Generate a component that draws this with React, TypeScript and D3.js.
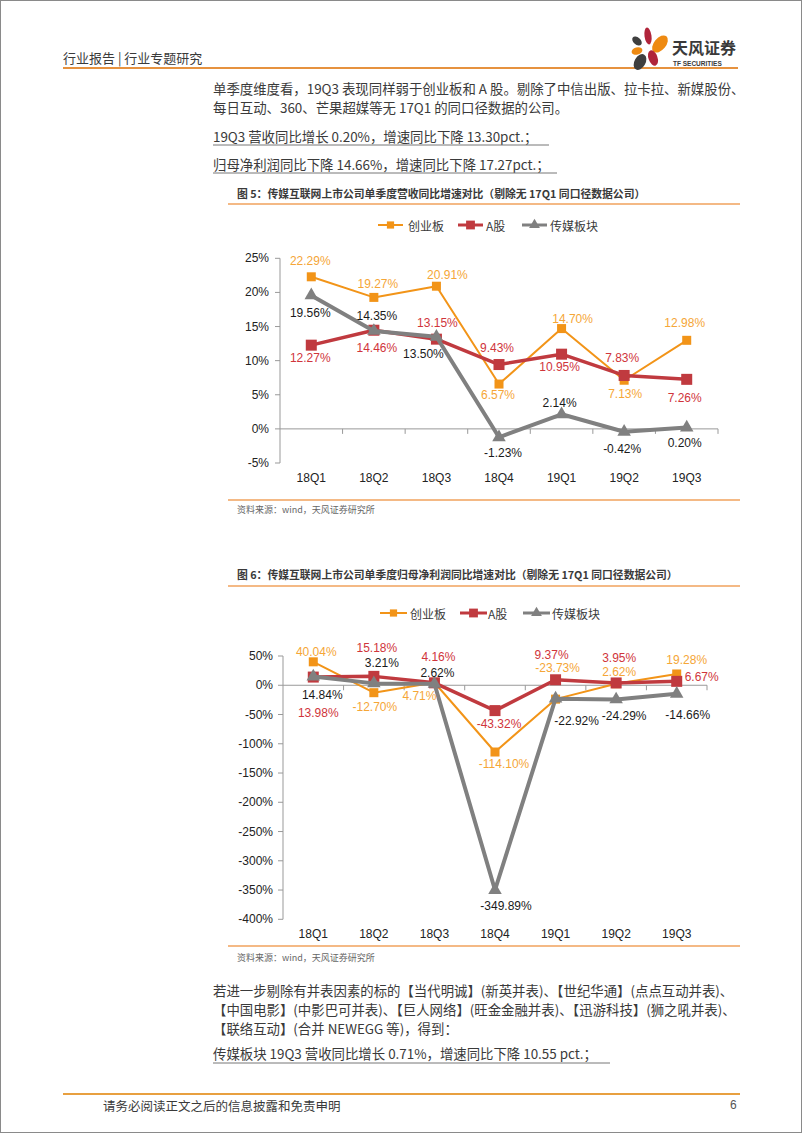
import React from "react";
import * as d3 from "d3";

const W = 802;
const H = 1133;

const quarters = ["18Q1", "18Q2", "18Q3", "18Q4", "19Q1", "19Q2", "19Q3"];
const seriesNames = ["创业板", "A股", "传媒板块"];

// 图5 营收同比增速 (%)
const revGem = [22.29, 19.27, 20.91, 6.57, 14.7, 7.13, 12.98];
const revA = [12.27, 14.46, 13.15, 9.43, 10.95, 7.83, 7.26];
const revMedia = [19.56, 14.35, 13.5, -1.23, 2.14, -0.42, 0.2];
const revTicks = [25, 20, 15, 10, 5, 0, -5];

// 图6 归母净利润同比增速 (%)
const profitGem = [40.04, -12.7, 4.71, -114.1, -23.73, 2.62, 19.28];
const profitA = [13.98, 15.18, 4.16, -43.32, 9.37, 3.95, 6.67];
const profitMedia = [14.84, 3.21, 2.62, -349.89, -22.92, -24.29, -14.66];
const profitTicks = [50, 0, -50, -100, -150, -200, -250, -300, -350, -400];

// label nudges [dx, dy] in px, per series per quarter
const revOffsets = [
  [[-1, -16], [4, -13], [11, -11], [-1, 11], [11, -10], [1, 14], [-2, -17]],
  [[-1, 13], [3, 18], [1, -16], [-2, -17], [-2, 13], [-2, -17], [-2, 19]],
  [[-1, 18], [3, -15], [-13, 17], [4, 16], [-2, -11], [-2, 17], [-2, 15]],
];
const profitOffsets = [
  [[3, -10], [1, 14], [-15, 14], [9, 12], [2, -31], [3, -12], [10, -14]],
  [[5, 36], [3, -28], [4, -26], [4, 13], [-4, -25], [3, -25], [25, -4]],
  [[9, 18], [8, -20], [3, -11], [11, 16], [21, 22], [8, 17], [11, 21]],
];

const styles = [
  { stroke: "#F29418", width: 2, marker: "square", size: 9, label: "#F5A637" },
  { stroke: "#C03A3F", width: 3.5, marker: "square", size: 11, label: "#D0353B" },
  { stroke: "#808080", width: 4, marker: "triangle", size: 12, label: "#1a1a1a" },
];

const cjk = "'Noto Sans CJK SC', 'Noto Sans', sans-serif";
const latin = "'Liberation Sans', Arial, sans-serif";
const textColor = "#3a3a3a";
const orange = "#E6923F";
const lightOrange = "#F4B985";

function Marker({ kind, x, y, size, fill }: any) {
  if (kind === "square") {
    return <rect x={x - size / 2} y={y - size / 2} width={size} height={size} fill={fill} />;
  }
  const sym = d3.symbol().type(d3.symbolTriangle).size(size * size * 0.55)();
  return <path d={sym || ""} transform={`translate(${x},${y})`} fill={fill} />;
}

function LineChart({ series, offsets, domain, ticks, yRange, xRange, labelRight, catY }: any) {
  const x = d3.scaleBand().domain(quarters).range(xRange);
  const y = d3.scaleLinear().domain(domain).range(yRange);
  const cx = (q: string) => (x(q) as number) + x.bandwidth() / 2;
  const line = d3
    .line<number>()
    .x((_, i) => cx(quarters[i]))
    .y((d) => y(d));
  const axisX = xRange[0];
  return (
    <g>
      {/* y axis */}
      <line x1={axisX} x2={axisX} y1={y(domain[1])} y2={y(domain[0])} stroke="#999" strokeWidth={1} />
      {ticks.map((t: number) => (
        <g key={t}>
          <line x1={axisX - 5} x2={axisX} y1={y(t)} y2={y(t)} stroke="#999" />
          <text x={labelRight} y={y(t)} textAnchor="end" dominantBaseline="central" fontFamily={latin} fontSize={12} fill="#222">
            {t}%
          </text>
        </g>
      ))}
      {/* x axis at zero */}
      <line x1={axisX} x2={xRange[1]} y1={y(0)} y2={y(0)} stroke="#999" />
      {quarters.map((q) => (
        <line key={q} x1={(x(q) as number) + x.bandwidth()} x2={(x(q) as number) + x.bandwidth()} y1={y(0)} y2={y(0) + 5} stroke="#999" />
      ))}
      {quarters.map((q) => (
        <text key={q} x={cx(q)} y={catY} textAnchor="middle" dominantBaseline="central" fontFamily={latin} fontSize={12} fill="#222">
          {q}
        </text>
      ))}
      {series.map((vals: number[], si: number) => {
        const st = styles[si];
        return (
          <g key={si}>
            <path d={line(vals) || ""} fill="none" stroke={st.stroke} strokeWidth={st.width} strokeLinejoin="round" />
            {vals.map((v, i) => (
              <Marker key={i} kind={st.marker} x={cx(quarters[i])} y={y(v)} size={st.size} fill={st.stroke} />
            ))}
          </g>
        );
      })}
      {series.map((vals: number[], si: number) =>
        vals.map((v, i) => (
          <text
            key={`${si}-${i}`}
            x={cx(quarters[i]) + offsets[si][i][0]}
            y={y(v) + offsets[si][i][1]}
            textAnchor="middle"
            dominantBaseline="central"
            fontFamily={latin}
            fontSize={12}
            fill={styles[si].label}
          >
            {v.toFixed(2)}%
          </text>
        ))
      )}
    </g>
  );
}

function Legend({ y, items }: any) {
  return (
    <g>
      {items.map((it: any, i: number) => {
        const st = styles[i];
        const mid = (it.x0 + it.x1) / 2;
        return (
          <g key={i}>
            <line x1={it.x0} x2={it.x1} y1={y} y2={y} stroke={st.stroke} strokeWidth={i === 0 ? 2 : 3} />
            <Marker kind={st.marker} x={mid} y={y} size={st.size * 0.8} fill={st.stroke} />
            <text x={it.tx} y={y} dominantBaseline="central" fontFamily={cjk} fontSize={12} fill={textColor}>
              {seriesNames[i]}
            </text>
          </g>
        );
      })}
    </g>
  );
}

function Logo() {
  return (
    <g>
      <ellipse cx={648} cy={36} rx={3.5} ry={8.5} fill="#B0243A" transform="rotate(-8 648 36)" />
      <ellipse cx={637} cy={41} rx={3.5} ry={5.5} fill="#3F3F3F" transform="rotate(-50 637 41)" />
      <ellipse cx={660} cy={44} rx={6} ry={10} fill="#EE8A12" transform="rotate(40 660 44)" />
      <ellipse cx={637} cy={51} rx={3.5} ry={5.5} fill="#EE8A12" transform="rotate(75 637 51)" />
      <ellipse cx={653} cy={58} rx={4.5} ry={8} fill="#B0243A" transform="rotate(-20 653 58)" />
      <ellipse cx={640} cy={62} rx={5.5} ry={8.5} fill="#3F3F3F" transform="rotate(30 640 62)" />
      <text x={672} y={47} dominantBaseline="central" fontFamily={cjk} fontSize={16} fontWeight={700} fill="#3a3a3a">
        天风证券
      </text>
      <text x={673} y={63} dominantBaseline="central" fontFamily={latin} fontSize={6.5} fontWeight={700} fill="#3a3a3a">
        TF SECURITIES
      </text>
    </g>
  );
}

export default function App() {
  const bodyLine = (t: string, y: number, key: string) => (
    <text key={key} x={213} y={y} dominantBaseline="central" fontFamily={cjk} fontSize={13.4} fill={textColor}>
      {t}
    </text>
  );
  return (
    <svg width={W} height={H} style={{ position: "absolute", left: 0, top: 0, background: "#fff" }}>
      <rect x={0.5} y={0.5} width={W - 1} height={H - 1} fill="#fff" stroke="#8a8a8a" />
      {/* header */}
      <text x={63} y={57} dominantBaseline="central" fontFamily={cjk} fontSize={13} fill={textColor}>
        行业报告 | 行业专题研究
      </text>
      <line x1={63} x2={738} y1={68} y2={68} stroke={orange} strokeWidth={2} />
      <Logo />

      {bodyLine("单季度维度看，19Q3 表现同样弱于创业板和 A 股。剔除了中信出版、拉卡拉、新媒股份、", 88, "l1")}
      {bodyLine("每日互动、360、芒果超媒等无 17Q1 的同口径数据的公司。", 107, "l2")}
      {bodyLine("19Q3 营收同比增长 0.20%，增速同比下降 13.30pct.；", 136, "l3")}
      <line x1={213} x2={549} y1={145} y2={145} stroke="#777" />
      {bodyLine("归母净利润同比下降 14.66%，增速同比下降 17.27pct.；", 164, "l4")}
      <line x1={213} x2={557} y1={173} y2={173} stroke="#777" />

      {/* figure 5 */}
      <text x={237} y={193} dominantBaseline="central" fontFamily={cjk} fontSize={10.8} fontWeight={700} fill={textColor}>
        图 5：传媒互联网上市公司单季度营收同比增速对比（剔除无 17Q1 同口径数据公司）
      </text>
      <line x1={228} x2={740} y1={204} y2={204} stroke={lightOrange} strokeWidth={2} />
      <Legend
        y={225}
        items={[
          { x0: 378, x1: 403, tx: 408 },
          { x0: 458, x1: 483, tx: 486 },
          { x0: 522, x1: 547, tx: 550 },
        ]}
      />
      <LineChart
        series={[revGem, revA, revMedia]}
        offsets={revOffsets}
        domain={[-5, 25]}
        ticks={revTicks}
        yRange={[463, 258.3]}
        xRange={[280, 718]}
        labelRight={269}
        catY={478}
      />
      <line x1={228} x2={740} y1={500} y2={500} stroke={lightOrange} strokeWidth={2} />
      <text x={237} y={509} dominantBaseline="central" fontFamily={cjk} fontSize={9} fill="#666">
        资料来源：wind，天风证券研究所
      </text>

      {/* figure 6 */}
      <text x={237} y={574} dominantBaseline="central" fontFamily={cjk} fontSize={10.8} fontWeight={700} fill={textColor}>
        图 6：传媒互联网上市公司单季度归母净利润同比增速对比（剔除无 17Q1 同口径数据公司）
      </text>
      <line x1={228} x2={740} y1={586} y2={586} stroke={lightOrange} strokeWidth={2} />
      <Legend
        y={613}
        items={[
          { x0: 380, x1: 407, tx: 410 },
          { x0: 460, x1: 487, tx: 488 },
          { x0: 523, x1: 550, tx: 552 },
        ]}
      />
      <LineChart
        series={[profitGem, profitA, profitMedia]}
        offsets={profitOffsets}
        domain={[-400, 50]}
        ticks={profitTicks}
        yRange={[919.3, 656]}
        xRange={[283, 707]}
        labelRight={273}
        catY={934}
      />
      <line x1={228} x2={740} y1={946} y2={946} stroke={lightOrange} strokeWidth={2} />
      <text x={237} y={957} dominantBaseline="central" fontFamily={cjk} fontSize={9} fill="#666">
        资料来源：wind，天风证券研究所
      </text>

      {bodyLine("若进一步剔除有并表因素的标的【当代明诚】(新英并表)、【世纪华通】(点点互动并表)、", 990, "p1")}
      {bodyLine("【中国电影】(中影巴可并表)、【巨人网络】(旺金金融并表)、【迅游科技】(狮之吼并表)、", 1009, "p2")}
      {bodyLine("【联络互动】(合并 NEWEGG 等)，得到：", 1028, "p3")}
      {bodyLine("传媒板块 19Q3 营收同比增长 0.71%，增速同比下降 10.55 pct.；", 1053, "p4")}
      <line x1={213} x2={610} y1={1063} y2={1063} stroke="#777" />

      {/* footer */}
      <line x1={63} x2={740} y1={1094} y2={1094} stroke="#E8A040" strokeWidth={2} />
      <text x={103} y={1105} dominantBaseline="central" fontFamily={cjk} fontSize={12.5} fill={textColor}>
        请务必阅读正文之后的信息披露和免责申明
      </text>
      <text x={730} y={1105} dominantBaseline="central" fontFamily={latin} fontSize={12} fill="#555">
        6
      </text>
    </svg>
  );
}
